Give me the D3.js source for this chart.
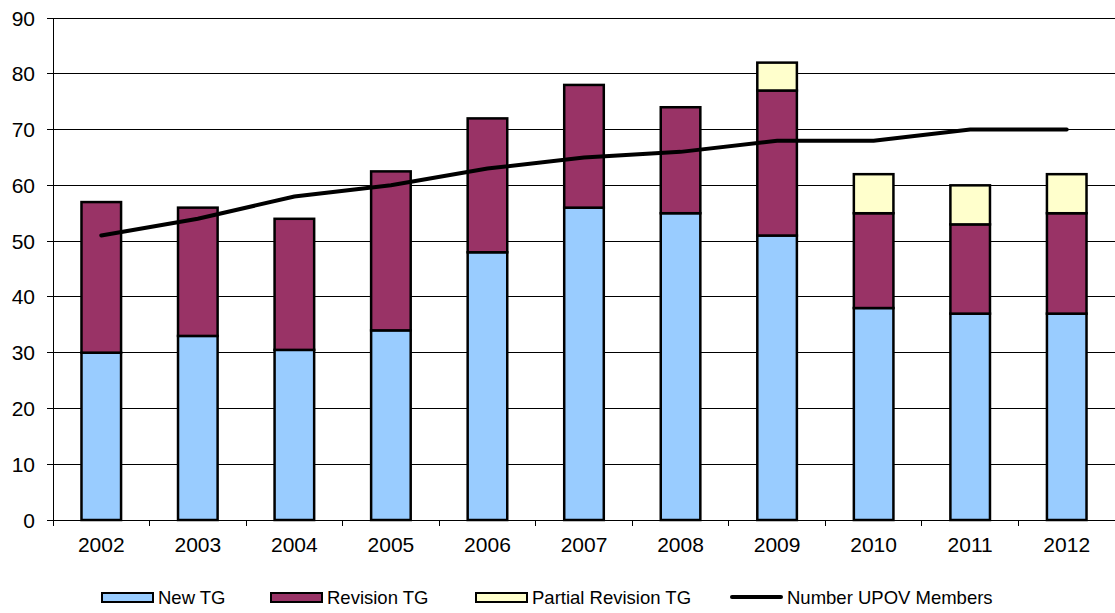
<!DOCTYPE html>
<html>
<head>
<meta charset="utf-8">
<script src="https://cdn.jsdelivr.net/npm/d3@7"></script>
<style>
  body { margin: 0; background: #fff; }
  text { font-family: Arial, "Liberation Sans", sans-serif; fill: #000; }
</style>
</head>
<body>
<script>
var width = 1115,
    height = 613

var years = ["2002", "2003", "2004", "2005", "2006", "2007", "2008", "2009", "2010", "2011", "2012"]
var newTG = [30, 33, 30.5, 34, 48, 56, 55, 51, 38, 37, 37]
var revisionTG = [27, 23, 23.5, 28.5, 24, 22, 19, 26, 17, 16, 18]
var partialTG = [0, 0, 0, 0, 0, 0, 0, 5, 7, 7, 7]
var upovMembers = [51, 54, 58, 60, 63, 65, 66, 68, 68, 70, 70]
var yTicks = [0, 10, 20, 30, 40, 50, 60, 70, 80, 90]

var seriesNames = ["New TG", "Revision TG", "Partial Revision TG"]
var colors = ["#99ccff", "#993366", "#ffffcc"]

var margin = {top: 18, right: 0, bottom: 93, left: 53}

var x = d3.scaleBand()
    .domain(years)
    .range([margin.left, width - margin.right])
    .paddingInner(0.59)
    .paddingOuter(0.295)

var xTick = d3.scaleBand()
    .domain(years)
    .range([margin.left, width - margin.right])

var y = d3.scaleLinear()
    .domain([0, 90])
    .range([height - margin.bottom, margin.top])

var svg = d3.select("body").append("svg")
    .attr("width", width)
    .attr("height", height)

// gridlines
svg.append("g")
    .selectAll("line")
    .data(yTicks)
    .enter().append("line")
    .attr("x1", margin.left - 6)
    .attr("x2", width)
    .attr("y1", function(d) { return y(d) })
    .attr("y2", function(d) { return y(d) })
    .attr("stroke", "#000")
    .attr("stroke-width", 1)
    .attr("shape-rendering", "crispEdges")

// y axis line
svg.append("line")
    .attr("x1", margin.left).attr("x2", margin.left)
    .attr("y1", y(90)).attr("y2", y(0))
    .attr("stroke", "#000")
    .attr("shape-rendering", "crispEdges")

// y labels
svg.append("g")
    .selectAll("text")
    .data(yTicks)
    .enter().append("text")
    .attr("x", 35)
    .attr("y", function(d) { return y(d) })
    .attr("dy", "0.36em")
    .attr("text-anchor", "end")
    .style("font-size", "21px")
    .text(function(d) { return d })

// x ticks
svg.append("g")
    .selectAll("line")
    .data(years)
    .enter().append("line")
    .attr("x1", function(d) { return xTick(d) })
    .attr("x2", function(d) { return xTick(d) })
    .attr("y1", y(0))
    .attr("y2", y(0) + 6)
    .attr("stroke", "#000")
    .attr("shape-rendering", "crispEdges")

svg.append("g")
    .selectAll("text")
    .data(years)
    .enter().append("text")
    .attr("x", function(d) { return x(d) + x.bandwidth() / 2 })
    .attr("y", 552)
    .attr("text-anchor", "middle")
    .style("font-size", "21px")
    .text(function(d) { return d })

// stacked bars
var rows = years.map(function(yr, i) {
    return {year: yr, "New TG": newTG[i], "Revision TG": revisionTG[i], "Partial Revision TG": partialTG[i]}
})
var stacked = d3.stack().keys(seriesNames)(rows)

svg.append("g")
    .selectAll("g")
    .data(stacked)
    .enter().append("g")
    .attr("fill", function(d, i) { return colors[i] })
    .selectAll("rect")
    .data(function(d) { return d.filter(function(p) { return p[1] - p[0] > 0 }) })
    .enter().append("rect")
    .attr("x", function(d) { return x(d.data.year) })
    .attr("width", x.bandwidth())
    .attr("y", function(d) { return y(d[1]) })
    .attr("height", function(d) { return y(d[0]) - y(d[1]) })
    .attr("stroke", "#000")
    .attr("stroke-width", 2.5)

// members line
var line = d3.line()
    .x(function(d, i) { return x(years[i]) + x.bandwidth() / 2 })
    .y(function(d) { return y(d) })

svg.append("path")
    .datum(upovMembers)
    .attr("d", line)
    .attr("fill", "none")
    .attr("stroke", "#000")
    .attr("stroke-width", 4)
    .attr("stroke-linecap", "round")

// legend
var legendItems = [
    {name: "New TG", type: "rect", color: colors[0], x: 102},
    {name: "Revision TG", type: "rect", color: colors[1], x: 271},
    {name: "Partial Revision TG", type: "rect", color: colors[2], x: 476},
    {name: "Number UPOV Members", type: "line", color: "#000", x: 731}
]

var legend = svg.append("g")
    .selectAll("g")
    .data(legendItems)
    .enter().append("g")
    .attr("transform", function(d) { return "translate(" + d.x + ",597)" })

legend.filter(function(d) { return d.type === "rect" })
    .append("rect")
    .attr("x", 0).attr("y", -4)
    .attr("width", 51).attr("height", 9)
    .attr("fill", function(d) { return d.color })
    .attr("stroke", "#000")
    .attr("stroke-width", 2)

legend.filter(function(d) { return d.type === "line" })
    .append("line")
    .attr("x1", 1).attr("x2", 50)
    .attr("y1", 0).attr("y2", 0)
    .attr("stroke", "#000")
    .attr("stroke-width", 4)
    .attr("stroke-linecap", "round")

legend.append("text")
    .attr("x", 56)
    .attr("dy", "0.36em")
    .style("font-size", "18.5px")
    .text(function(d) { return d.name })
</script>
</body>
</html>
